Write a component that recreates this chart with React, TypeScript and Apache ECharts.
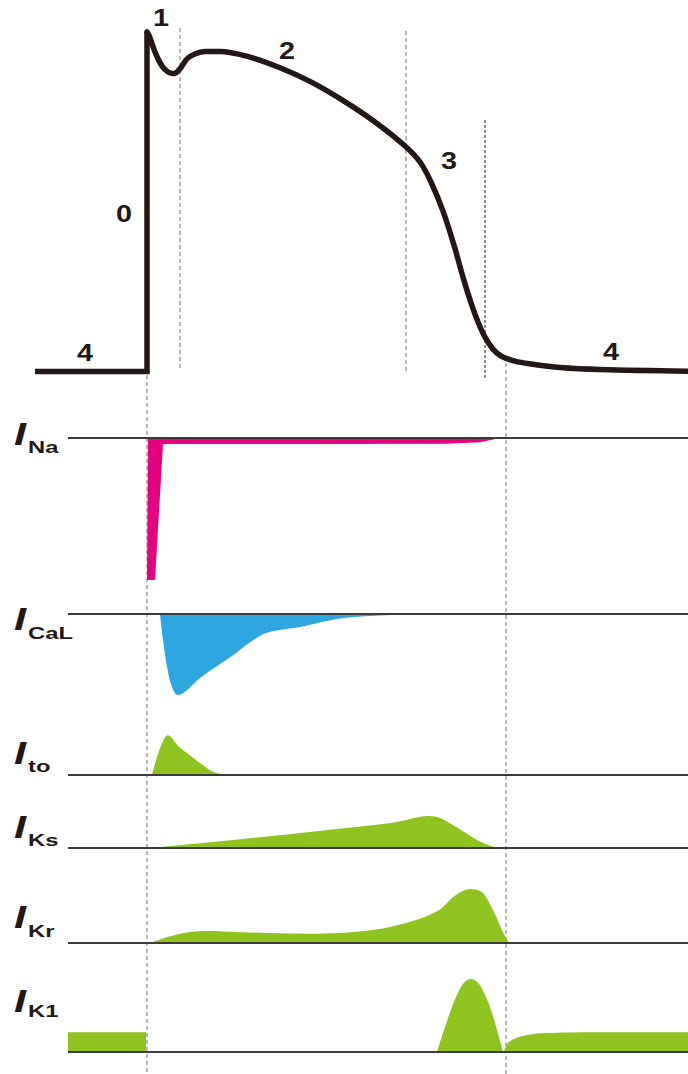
import React, { useEffect, useRef } from "react";
import * as echarts from "echarts";

// Time axis (ms, 0 = upstroke), shared by all panels
const T_MIN = -147;
const T_MAX = 541;

// Action potential (mV)
const AP_UP_T = [-112, 0, 0, 3];
const AP_UP_V = [-90, -90, 28.8, 26.7];
const AP_T = [0, 3, 8, 15, 21, 27, 33, 40, 48, 58, 73, 103, 133, 163, 197, 228, 258, 273, 284, 296, 307, 316, 324, 331, 338, 346, 354, 368, 384, 413, 453, 541];
const AP_V = [28.8, 26.7, 21.8, 16.9, 14.8, 14.3, 15.9, 19.4, 21.1, 22, 22, 20, 16.3, 11.5, 4.6, -2.7, -11.1, -16.7, -23.7, -33.9, -45.8, -57, -66, -72.7, -78, -82.2, -84.6, -86.4, -87.4, -88.6, -89.3, -89.9];

// Ion currents (relative units, % of peak)
const INA_T = [1, 0, 8, 16, 150, 300, 333, 353];
const INA_V = [0, -100, -100, -4.2, -4.2, -4, -3, 0];
const ICAL_T = [13, 16, 20, 25, 31, 38, 53, 86, 103, 120, 153, 197, 253, 273];
const ICAL_V = [0, -32, -65, -90, -100, -96, -79, -51, -35, -23, -16, -5, -1, 0];
const ITO_T = [5, 21, 33, 40, 53, 66, 80];
const ITO_V = [0, 100, 68, 55, 30, 8, 0];
const IKS_T = [3, 86, 197, 247, 262, 272, 280, 290, 297, 314, 330, 347, 357];
const IKS_V = [0, 25, 62, 80, 90, 97, 100, 97, 88, 56, 25, 3, 0];
const IKR_T = [3, 28, 59, 94, 160, 226, 270, 292, 309, 324, 335, 346, 355, 362];
const IKR_V = [0, 15, 22, 20, 17, 24, 43, 61, 89, 100, 94, 61, 24, 0];
const IK1_REST_T = [-79, -79, -1, -1];
const IK1_REST_V = [0, 27, 27, 0];
const IK1_PEAK_T = [290, 297, 304, 311, 317, 324, 331, 337, 344, 350, 356];
const IK1_PEAK_V = [0, 30, 58, 81, 95, 100, 95, 81, 58, 30, 0];
const IK1_TAIL_T = [357, 362, 379, 401, 467, 541];
const IK1_TAIL_V = [0, 14, 23, 26, 27, 27];

const BASE_T = [-79, 541];

// Guide lines (time, from-row, to-row on the page overlay scale)
const GUIDE_T = [0, 33, 259, 338, 359];
const GUIDE_Y0 = [375, 28, 31, 120, 363];
const GUIDE_Y1 = [1074, 370, 374, 378, 1074];

const PHASE_LABELS = ["1", "0", "2", "3", "4", "4"];
const CURRENT_NAMES = ["Na", "CaL", "to", "Ks", "Kr", "K1"];

const zip = (t: number[], v: number[]) => t.map((x, i) => [x, v[i]]);

const FONT = "Liberation Sans, Arial, sans-serif";
const DARK = "#231815";
const BASE_COLOR = "#3e3a39";
const PINK = "#e4007f";
const BLUE = "#2ea7e0";
const GREEN = "#8fc31f";

export default function App() {
  const ref = useRef<HTMLDivElement>(null);
  useEffect(() => {
    if (!ref.current) return;
    const chart = echarts.init(ref.current, null, { renderer: "svg" });

    const panels = [
      { top: 0, height: 400, min: -100, max: 40 }, // AP
      { top: 438, height: 142, min: -100, max: 0 }, // INa
      { top: 614, height: 81, min: -100, max: 0 }, // ICaL
      { top: 735, height: 40, min: 0, max: 100 }, // Ito
      { top: 816, height: 32, min: 0, max: 100 }, // IKs
      { top: 889, height: 54, min: 0, max: 100 }, // IKr
      { top: 979, height: 73, min: 0, max: 100 }, // IK1
      { top: 0, height: 1074, min: 0, max: 1074 }, // overlay for guides
    ];
    const grid = panels.map((p) => ({ left: 0, right: 0, top: p.top, height: p.height }));
    const xAxis = panels.map((_, i) => ({ type: "value", gridIndex: i, min: T_MIN, max: T_MAX, show: false }));
    const yAxis = panels.map((p, i) => ({
      type: "value",
      gridIndex: i,
      min: p.min,
      max: p.max,
      show: false,
      inverse: i === 7,
    }));

    const series: any[] = [];
    GUIDE_T.forEach((t, i) => {
      series.push({
        type: "line",
        xAxisIndex: 7,
        yAxisIndex: 7,
        data: [[t, GUIDE_Y0[i]], [t, GUIDE_Y1[i]]],
        symbol: "none",
        lineStyle: { color: i === 3 ? "#6e6e6e" : "#808080", width: i === 3 ? 1.6 : 1.1, type: i === 3 ? [3, 2] : [4, 3] },
        z: 1,
        silent: true,
      });
    });
    series.push({
      type: "line",
      xAxisIndex: 0,
      yAxisIndex: 0,
      data: zip(AP_UP_T, AP_UP_V),
      symbol: "none",
      lineStyle: { color: DARK, width: 5.5, cap: "butt", join: "miter" },
      z: 3,
    });
    series.push({
      type: "line",
      xAxisIndex: 0,
      yAxisIndex: 0,
      data: zip(AP_T, AP_V),
      symbol: "none",
      smooth: 0.35,
      lineStyle: { color: DARK, width: 5.5, cap: "round" },
      z: 3,
    });
    const currents = [
      { g: 1, d: zip(INA_T, INA_V), c: PINK, s: false },
      { g: 2, d: zip(ICAL_T, ICAL_V), c: BLUE, s: 0.35 },
      { g: 3, d: zip(ITO_T, ITO_V), c: GREEN, s: 0.3 },
      { g: 4, d: zip(IKS_T, IKS_V), c: GREEN, s: 0.35 },
      { g: 5, d: zip(IKR_T, IKR_V), c: GREEN, s: 0.35 },
      { g: 6, d: zip(IK1_REST_T, IK1_REST_V), c: GREEN, s: false },
      { g: 6, d: zip(IK1_PEAK_T, IK1_PEAK_V), c: GREEN, s: 0.35 },
      { g: 6, d: zip(IK1_TAIL_T, IK1_TAIL_V), c: GREEN, s: 0.35 },
    ];
    currents.forEach((cur) => {
      series.push({
        type: "line",
        xAxisIndex: cur.g,
        yAxisIndex: cur.g,
        data: cur.d,
        symbol: "none",
        smooth: cur.s,
        lineStyle: { width: 0, color: cur.c },
        areaStyle: { color: cur.c, opacity: 1, origin: 0 },
        z: 2,
      });
    });
    for (let gi = 1; gi <= 6; gi++) {
      series.push({
        type: "line",
        xAxisIndex: gi,
        yAxisIndex: gi,
        data: BASE_T.map((t) => [t, 0]),
        symbol: "none",
        lineStyle: { color: BASE_COLOR, width: 2 },
        z: 2.5,
      });
    }

    const phasePos = [
      [161, 18],
      [124, 214],
      [287, 51],
      [449, 161],
      [85, 353],
      [611, 352],
    ];
    const graphics: any[] = PHASE_LABELS.map((s, i) => ({
      type: "text",
      x: phasePos[i][0],
      y: phasePos[i][1],
      scaleX: 1.2,
      style: { text: s, font: `bold 24px ${FONT}`, fill: DARK, align: "center", verticalAlign: "middle" },
      z: 10,
    }));
    const labelY = [
      [434, 447],
      [619, 633],
      [753, 766],
      [827, 840],
      [917, 931],
      [1001, 1011],
    ];
    CURRENT_NAMES.forEach((n, i) => {
      graphics.push({
        type: "text",
        x: 14,
        y: labelY[i][0],
        scaleX: 1.4,
        style: { text: "I", font: `italic bold 31px ${FONT}`, fill: DARK, align: "left", verticalAlign: "middle" },
        z: 10,
      });
      graphics.push({
        type: "text",
        x: 28,
        y: labelY[i][1],
        scaleX: 1.4,
        style: { text: n, font: `bold 17px ${FONT}`, fill: DARK, align: "left", verticalAlign: "middle" },
        z: 10,
      });
    });

    chart.setOption({
      animation: false,
      backgroundColor: "#ffffff",
      grid,
      xAxis,
      yAxis,
      series,
      graphic: graphics,
    });
    return () => chart.dispose();
  }, []);
  return <div ref={ref} style={{ position: "absolute", left: 0, top: 0, width: 688, height: 1074 }} />;
}
